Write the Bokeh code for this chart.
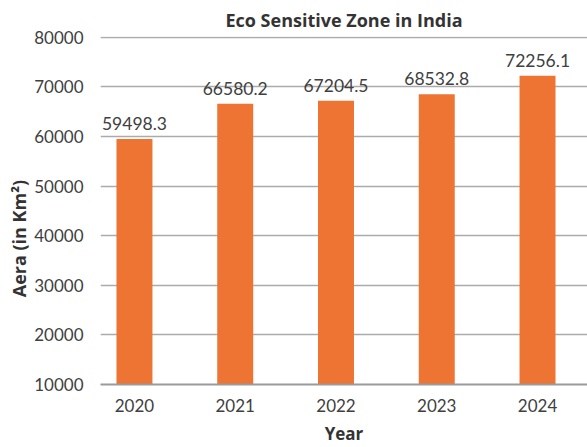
from bokeh.plotting import figure
from bokeh.models import Range1d, FixedTicker, ColumnDataSource
from bokeh.core.properties import value
from bokeh.embed import file_html
from bokeh.resources import INLINE

years = ["2020", "2021", "2022", "2023", "2024"]
areas = [59498.3, 66580.2, 67204.5, 68532.8, 72256.1]
y_ticks = [10000, 20000, 30000, 40000, 50000, 60000, 70000, 80000]

title_text = "Eco Sensitive Zone in India"
x_title = "Year"
y_title = "Aera (in Km²)"

xs = list(range(len(years)))
src = ColumnDataSource(dict(x=xs, top=areas, lab=[f"{v:.1f}" for v in areas]))

FONT = "Lato"
BOLD_FONT = "Open Sans"
TXT = "#404040"

p = figure(width=587, height=447, output_backend="svg", toolbar_location=None,
           x_range=Range1d(-0.337, 4.496), y_range=Range1d(10000, 80150),
           min_border_left=100, min_border_right=0, min_border_top=36, min_border_bottom=60)
p.outline_line_color = None

p.title.text = title_text
p.title.align = "center"
p.title.text_font = BOLD_FONT
p.title.text_font_style = "bold"
p.title.text_font_size = "18px"
p.title.text_color = "#333333"
p.title.standoff = 10

p.vbar(x="x", top="top", bottom=10000, width=0.357, source=src, color="#ED7432", line_color=None)

p.text(x="x", y="top", text="lab", source=src, y_offset=-9, text_align="center",
       text_baseline="bottom", text_font=value(FONT), text_font_size="17.5px", text_color=TXT)

# axes
p.xaxis.ticker = FixedTicker(ticks=xs)
p.xaxis.major_label_overrides = {i: y for i, y in enumerate(years)}
p.xaxis.major_tick_line_color = None
p.xaxis.minor_tick_line_color = None
p.xaxis.axis_line_color = "#9a9a9a"
p.xaxis.axis_line_width = 2
p.xaxis.major_label_text_font = FONT
p.xaxis.major_label_text_font_size = "17px"
p.xaxis.major_label_text_color = TXT
p.xaxis.major_label_standoff = 8
p.xaxis.axis_label = x_title
p.xaxis.axis_label_text_font = BOLD_FONT
p.xaxis.axis_label_text_font_style = "bold"
p.xaxis.axis_label_text_font_size = "17px"
p.xaxis.axis_label_text_color = "#333333"
p.xaxis.axis_label_standoff = 7

p.yaxis.ticker = FixedTicker(ticks=y_ticks)
p.yaxis.major_tick_line_color = None
p.yaxis.minor_tick_line_color = None
p.yaxis.axis_line_color = None
p.yaxis.major_label_text_font = FONT
p.yaxis.major_label_text_font_size = "17px"
p.yaxis.major_label_text_color = TXT
p.yaxis.major_label_standoff = 11
p.yaxis.axis_label = y_title + "\u00a0" * 12
p.yaxis.axis_label_text_font = BOLD_FONT
p.yaxis.axis_label_text_font_style = "bold"
p.yaxis.axis_label_text_font_size = "18px"
p.yaxis.axis_label_text_color = "#333333"
p.yaxis.axis_label_standoff = 0

p.xgrid.grid_line_color = None
p.ygrid.ticker = FixedTicker(ticks=y_ticks)
p.ygrid.grid_line_color = "#ababab"
p.ygrid.grid_line_width = 1.5

open("out.html", "w").write(file_html(p, INLINE))
